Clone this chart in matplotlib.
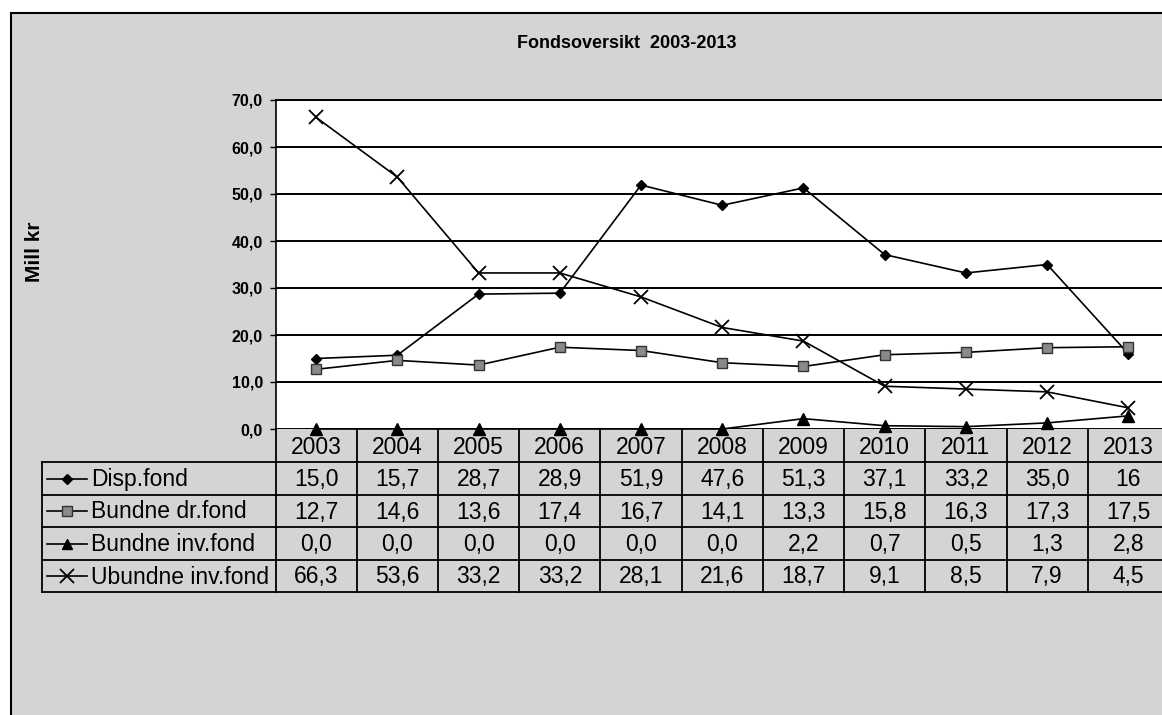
import matplotlib
matplotlib.use("Agg")
import matplotlib.pyplot as plt
import matplotlib.transforms as mtransforms
from matplotlib.lines import Line2D
from matplotlib.patches import Rectangle

years = ["2003", "2004", "2005", "2006", "2007", "2008", "2009", "2010", "2011", "2012", "2013"]
disp_fond = [15.0, 15.7, 28.7, 28.9, 51.9, 47.6, 51.3, 37.1, 33.2, 35.0, 16]
bundne_dr_fond = [12.7, 14.6, 13.6, 17.4, 16.7, 14.1, 13.3, 15.8, 16.3, 17.3, 17.5]
bundne_inv_fond = [0.0, 0.0, 0.0, 0.0, 0.0, 0.0, 2.2, 0.7, 0.5, 1.3, 2.8]
ubundne_inv_fond = [66.3, 53.6, 33.2, 33.2, 28.1, 21.6, 18.7, 9.1, 8.5, 7.9, 4.5]
series_names = ["Disp.fond", "Bundne dr.fond", "Bundne inv.fond", "Ubundne inv.fond"]
y_ticks = [0, 10, 20, 30, 40, 50, 60, 70]
title = "Fondsoversikt  2003-2013"
y_label = "Mill kr"

FONT = "Liberation Sans"
W, H = 1162, 715
BG = "#d4d4d4"

def fx(x):
    return x / W

def fy(y):
    return 1 - y / H

fig = plt.figure(figsize=(W / 100, H / 100), dpi=100)
fig.patch.set_facecolor("white")

# chart area background with frame
fig.add_artist(Rectangle((fx(11), fy(730)), fx(1200), fy(13) - fy(730),
                         transform=fig.transFigure, facecolor=BG,
                         edgecolor="black", linewidth=1.5, zorder=0))

left_px, right_px = 275.5, 1169
top_px, bot_px = 100, 429
ax = fig.add_axes([fx(left_px), fy(bot_px), fx(right_px - left_px), fy(top_px) - fy(bot_px)])
ax.set_facecolor("white")
n = len(years)
xs = list(range(n))
ax.set_xlim(-0.5, n - 0.5)
ax.set_ylim(0, 70)

styles = [
    dict(marker="D", markersize=5.5, markerfacecolor="black", markeredgecolor="black"),
    dict(marker="s", markersize=7.5, markerfacecolor="#8a8a8a", markeredgecolor="#333333"),
    dict(marker="^", markersize=8, markerfacecolor="black", markeredgecolor="black"),
    dict(marker="x", markersize=10, markeredgecolor="black", markeredgewidth=1.3),
]
data = [disp_fond, bundne_dr_fond, bundne_inv_fond, ubundne_inv_fond]
for vals, st in zip(data, styles):
    ax.plot(xs, vals, color="black", linewidth=1.2, clip_on=False, zorder=3, **st)

ax.set_yticks(y_ticks)
ax.set_yticklabels([f"{v:.1f}".replace(".", ",") for v in y_ticks],
                   fontfamily=FONT, fontweight="bold", fontsize=11.5)
ax.yaxis.grid(True, color="black", linewidth=1.4)
ax.set_axisbelow(True)
ax.tick_params(axis="y", length=4, width=1, pad=5, direction="out")
ax.set_xticks([])
for s in ["right", "bottom"]:
    ax.spines[s].set_visible(False)
ax.spines["left"].set_linewidth(1.2)
ax.spines["top"].set_linewidth(1.4)

fig.text(fx(627), fy(44), title, ha="center", va="center",
         fontfamily=FONT, fontweight="bold", fontsize=13)
fig.text(fx(35), fy(252), y_label, ha="center", va="center", rotation=90,
         fontfamily=FONT, fontweight="bold", fontsize=15)

# data table
bt = mtransforms.blended_transform_factory(ax.transData, fig.transFigure)
row_edges = [429, 462, 495, 527, 560, 592]
lw = 1.3
for y in row_edges[1:]:
    fig.add_artist(Line2D([fx(42), fx(1200)], [fy(y)] * 2, color="black", lw=lw))
fig.add_artist(Line2D([fx(42), fx(42)], [fy(462), fy(592)], color="black", lw=lw))
for i in range(n + 1):
    fig.add_artist(Line2D([i - 0.5, i - 0.5], [fy(429), fy(592)], color="black",
                          lw=lw, transform=bt))

tfs = 16.5
for i, yr in enumerate(years):
    fig.text(i, fy(447), yr, transform=bt, ha="center", va="center",
             fontfamily=FONT, fontsize=tfs)

def fmt(v):
    if isinstance(v, float):
        return f"{v:.1f}".replace(".", ",")
    return str(v)

for r, (name, vals, st) in enumerate(zip(series_names, data, styles)):
    yc = (row_edges[r + 1] + row_edges[r + 2]) / 2
    fig.add_artist(Line2D([fx(47), fx(87)], [fy(yc)] * 2, color="black", lw=1.2))
    mk = dict(st)
    mk["markersize"] = mk["markersize"] * 0.95
    fig.add_artist(Line2D([fx(67)], [fy(yc)], color="black", lw=0, **mk))
    fig.text(fx(91), fy(yc + 1), name, ha="left", va="center",
             fontfamily=FONT, fontsize=tfs)
    for i, v in enumerate(vals):
        fig.text(i, fy(yc + 1), fmt(v), transform=bt, ha="center", va="center",
                 fontfamily=FONT, fontsize=tfs)

fig.savefig("out.png", dpi=100, facecolor="white")
